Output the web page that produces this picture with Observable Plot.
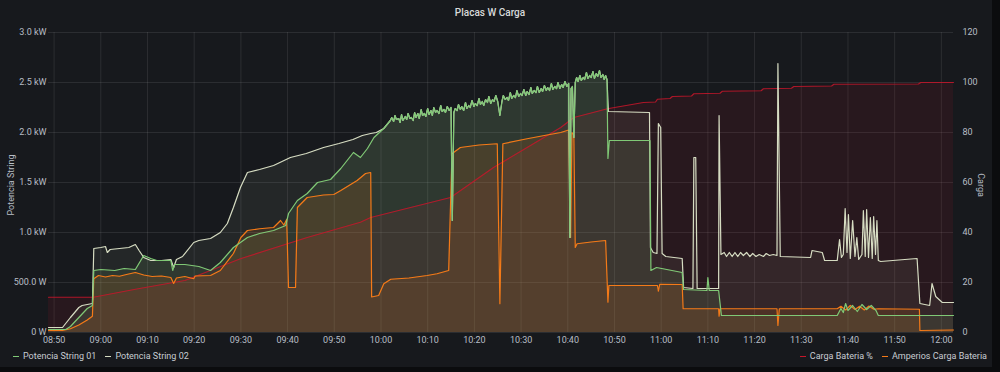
<!DOCTYPE html>
<html>
<head>
<meta charset="utf-8">
<script src="https://cdn.jsdelivr.net/npm/d3@7"></script>
<script src="https://cdn.jsdelivr.net/npm/@observablehq/plot@0.6"></script>
<style>
  html, body { margin: 0; padding: 0; background: #0b0c0e; width: 1000px; height: 372px; overflow: hidden; font-family: Roboto, "Noto Sans", sans-serif; }
  #panel { position: absolute; left: 0; top: 0; width: 992px; height: 367px; background: #17191d; }
  #title { position: absolute; left: 0; top: 7px; width: 980px; text-align: center; color: #d8d9da; font-size: 10px; font-weight: 500; }
  #chart { position: absolute; left: 0; top: 22px; }
  .ylab { position: absolute; color: #b8bec6; font-size: 9px; white-space: nowrap; }
  .legend { position: absolute; top: 351px; color: #c7ccd2; font-size: 9px; white-space: nowrap; display: flex; align-items: center; }
  .legend .item { display: flex; align-items: center; margin-right: 9px; }
  .legend .dash { display: inline-block; width: 6px; height: 1px; margin-right: 4px; }
</style>
</head>
<body>
<div id="panel"></div>
<div id="title">Placas W Carga</div>
<div id="chart"></div>
<div class="ylab" style="left:11px; top:185px; transform: translate(-50%,-50%) rotate(-90deg);">Potencia String</div>
<div class="ylab" style="left:981px; top:185px; transform: translate(-50%,-50%) rotate(90deg);">Carga</div>
<div class="legend" id="legL" style="left:13px;"></div>
<div class="legend" id="legR" style="right:13px;"></div>
<script>
// ---- tick labels ----
const xTickLabels = ["08:50","09:00","09:10","09:20","09:30","09:40","09:50","10:00","10:10","10:20","10:30","10:40","10:50","11:00","11:10","11:20","11:30","11:40","11:50","12:00"];
const leftTicks = [0, 0.5, 1.0, 1.5, 2.0, 2.5, 3.0];
const leftTickLabels = ["0 W","500.0 W","1.0 kW","1.5 kW","2.0 kW","2.5 kW","3.0 kW"];
const rightTickLabels = ["0","20","40","60","80","100","120"];
const rightMax = 120;   // right axis maximum
const leftMax = 3.0;    // left axis maximum (kW)

// ---- series: [minutes after 08:50, value] ----
// Potencia String 01 (kW)
const str01Early = [[-1.2,0.03],[2.5,0.03],[3.5,0.06],[5.3,0.15],[7.1,0.24],[8.2,0.27],[8.5,0.62],[10,0.63],[13,0.62],[15,0.64],[17.4,0.63],[19.2,0.77],[20.7,0.74],[22,0.72],[25,0.72],[25.4,0.62],[25.8,0.68],[28,0.68],[31,0.66],[33.5,0.62],[35.6,0.70],[38.4,0.85],[41.4,0.95],[44,0.99],[47,1.02],[49.6,1.07],[50.2,1.19],[52.1,1.32],[54.2,1.39],[56.4,1.50],[59.2,1.53],[61.4,1.64],[64.1,1.80],[65.6,1.75],[67.1,1.84],[68.5,1.95],[70.6,2.04]];
const str01Late = [[118.6,1.74],[118.9,1.92],[127.6,1.92],[127.8,0.62],[129,0.65],[134.5,0.60],[134.8,0.43],[139.8,0.42],[140.0,0.55],[140.3,0.42],[142.3,0.42],[142.9,0.17],[167.7,0.17],[168.5,0.24],[169,0.20],[169.5,0.29],[170,0.22],[171,0.27],[172,0.21],[173,0.28],[174,0.23],[175,0.27],[176,0.22],[176.5,0.17],[192.6,0.17]];
// Both strings (overlapping, 10:02 - 10:48)
const strShared = [[72.0,2.12],[72.3,2.15],[72.7,2.11],[73.0,2.17],[73.3,2.13],[73.8,2.14],[74.1,2.10],[74.4,2.18],[74.7,2.12],[75.2,2.16],[75.5,2.13],[75.8,2.19],[76.2,2.14],[76.5,2.15],[76.9,2.12],[77.2,2.20],[77.5,2.15],[77.9,2.19],[78.2,2.14],[78.6,2.23],[78.9,2.17],[79.3,2.19],[79.6,2.16],[80.0,2.24],[80.3,2.18],[80.7,2.22],[81.0,2.17],[81.3,2.25],[81.7,2.20],[82.0,2.22],[82.4,2.19],[82.8,2.27],[83.1,2.21],[83.5,2.23],[83.8,2.20],[84.2,2.26],[84.6,2.22],[85.0,2.25],[85.27,1.12],[85.6,2.20],[85.9,2.24],[86.3,2.22],[86.6,2.28],[87.0,2.23],[87.3,2.26],[87.7,2.22],[88.1,2.30],[88.4,2.24],[88.8,2.27],[89.1,2.25],[89.5,2.32],[89.9,2.26],[90.2,2.29],[90.6,2.27],[91.0,2.34],[91.3,2.28],[91.7,2.31],[92.0,2.27],[92.4,2.33],[92.8,2.30],[93.1,2.36],[93.5,2.29],[93.9,2.33],[94.2,2.31],[94.6,2.37],[95.0,2.31],[95.46,2.17],[95.9,2.31],[96.2,2.37],[96.6,2.33],[97.0,2.35],[97.3,2.32],[97.7,2.40],[98.0,2.34],[98.4,2.37],[98.8,2.35],[99.1,2.42],[99.5,2.36],[99.9,2.39],[100.2,2.37],[100.6,2.43],[101.0,2.37],[101.3,2.41],[101.7,2.38],[102.1,2.45],[102.4,2.39],[102.8,2.42],[103.2,2.40],[103.5,2.46],[103.9,2.40],[104.3,2.44],[104.6,2.41],[105.0,2.47],[105.4,2.42],[105.7,2.45],[106.1,2.42],[106.5,2.49],[106.8,2.43],[107.2,2.46],[107.6,2.44],[107.9,2.50],[108.3,2.44],[108.7,2.48],[109.0,2.45],[109.4,2.51],[109.8,2.46],[110.2,2.49],[110.45,0.95],[110.7,2.44],[111.0,2.46],[111.3,1.95],[111.6,2.50],[111.9,2.55],[112.2,2.51],[112.6,2.57],[112.9,2.52],[113.3,2.55],[113.6,2.53],[114.0,2.60],[114.3,2.54],[114.7,2.57],[115.0,2.55],[115.4,2.61],[115.7,2.54],[116.1,2.59],[116.4,2.56],[116.8,2.62],[117.1,2.55],[117.5,2.58],[117.8,2.53],[118.1,2.57],[118.4,2.53]];
// Potencia String 02 (kW)
const str02Early = [[-1.2,0.05],[1.8,0.05],[3.5,0.15],[5.3,0.25],[6.0,0.27],[7.1,0.28],[8.2,0.29],[8.5,0.84],[10,0.85],[11,0.86],[11.4,0.80],[12,0.83],[14,0.84],[16,0.85],[17.4,0.88],[18.2,0.82],[19.2,0.75],[20.7,0.72],[23,0.72],[25,0.73],[25.6,0.65],[26.2,0.73],[27.5,0.76],[29.9,0.90],[31,0.92],[33.5,0.94],[35.6,1.0],[37.1,1.09],[38.4,1.25],[39.9,1.45],[41.4,1.60],[44,1.63],[47,1.67],[50.6,1.75],[54,1.79],[57.7,1.85],[61,1.89],[64,1.93],[66,1.97],[67.8,1.99],[69,2.0],[70.6,2.04]];
const str02Late = [[118.7,2.21],[127.5,2.20],[127.7,0.85],[128.3,0.80],[129.1,0.79],[129.4,2.09],[129.9,2.05],[130.2,0.79],[131,0.76],[134.5,0.74],[134.8,0.45],[136.8,0.44],[137.0,1.75],[137.4,1.75],[137.7,0.44],[142.3,0.44],[142.4,2.17],[142.8,0.78],[143.5,0.80],[144,0.76],[144.6,0.80],[145.2,0.76],[145.8,0.80],[146.4,0.76],[147,0.80],[147.6,0.77],[148.3,0.80],[149,0.76],[149.6,0.79],[150.3,0.76],[151,0.78],[151.9,0.76],[152.5,0.79],[153.2,0.77],[154,0.78],[154.8,0.77],[155.0,2.69],[155.5,0.76],[162,0.75],[162.3,0.82],[164.5,0.80],[165,0.72],[167.7,0.72],[168.2,0.93],[168.6,0.75],[169.0,0.78],[169.4,1.24],[169.8,0.80],[170.1,1.18],[170.5,0.74],[171.0,1.12],[171.5,0.76],[171.9,0.95],[172.3,0.73],[173.0,0.78],[173.3,1.22],[173.7,0.76],[174.0,1.23],[174.4,0.75],[174.8,1.15],[175.2,0.74],[175.5,1.16],[175.9,0.78],[176.2,1.12],[176.5,0.72],[177,0.71],[184.8,0.74],[185.4,0.29],[187.5,0.27],[188.0,0.49],[188.8,0.36],[189.5,0.33],[190.2,0.30],[192.6,0.30]];
// Carga Bateria % (right axis)
const carga = [[-1.2,14.1],[8.4,14.1],[18,17.5],[28,20.8],[39.9,29.5],[54.2,38],[65.6,44.1],[67.8,46],[84.9,54],[94.1,66],[101.3,74],[108.5,82],[111.3,86],[118.5,89.5],[126.2,92],[128.8,92.2],[129.2,93.3],[131.9,93.6],[132.4,94.4],[136.5,94.6],[137,95.5],[142.6,95.7],[143.1,96.5],[151.4,96.7],[151.9,97.5],[157.9,97.7],[158.4,98.4],[166.5,98.6],[167,99.3],[185.1,99.4],[185.6,100],[192.6,100]];
// Amperios Carga Bateria (right axis)
const amperios = [[-1.2,0.8],[1.8,0.8],[3.5,1.5],[5.3,3.0],[7.1,5.0],[8.2,6.5],[8.5,21.5],[9.5,22.8],[11,22.2],[12.5,22.8],[14,22.5],[15.5,23.2],[17.4,24.0],[19.2,23.0],[21,22.4],[23,22.6],[25,22.0],[25.6,19.6],[26.2,21.8],[28,22.4],[29.9,21.5],[30.2,22.6],[33.5,22.8],[35.6,24.8],[38.4,31.6],[40,38],[41.4,40.8],[44,41.5],[47,42.0],[48.5,44.8],[49.2,43.0],[49.8,45.2],[50.2,18.0],[51.7,18.0],[52.1,50.0],[54.2,54.0],[57.7,55.0],[59.9,55.2],[61.4,56.8],[64.9,60.8],[66.7,63.6],[67.8,64.0],[68.0,14.2],[69.5,14.8],[70.6,19.5],[72.1,21.3],[76,21.8],[79.9,22.8],[82,23.5],[84.5,24.8],[85.2,71.5],[87,74],[91,75],[94.9,75.5],[95.46,11.5],[96.1,75.5],[101.3,77.5],[105,78.8],[108.5,80],[110.2,81],[110.6,38],[110.9,80],[111.3,79],[111.6,34],[112,35.5],[115,36.2],[118.1,36.8],[118.6,12.1],[118.8,18.8],[129.2,18.8],[129.4,16.5],[129.7,19.3],[134.5,19.2],[134.7,9.5],[142.3,9.5],[142.4,6.5],[142.6,9.5],[154.8,9.5],[155.0,2.8],[155.3,9.5],[167.7,9.5],[168.5,10.5],[169.5,9.0],[170.5,10.8],[171.5,9.2],[172.5,10.5],[173.5,9.0],[174.5,10.6],[175.5,9.3],[176.5,9.5],[185.3,9.3],[185.4,0.8],[192.6,1.0]];

// ---- build tables ----
const parse = d3.timeParse("%Y-%m-%d %H:%M");
const base = parse("2021-06-01 08:50");
const toDate = m => new Date(base.getTime() + m * 60000);
const xTicks = xTickLabels.map(l => parse("2021-06-01 " + l));
const toRight = v => v * leftMax / rightMax;

const rows = (pairs, f = v => v) => pairs.map(([m, v]) => ({t: toDate(m), v: f(v)}));
const s01 = rows([...str01Early, ...strShared, ...str01Late]);
const s02 = rows([...str02Early, ...strShared, ...str02Late]);
const sCarga = rows(carga, toRight);
const sAmp = rows(amperios, toRight);

const leftMap = new Map(leftTicks.map((d, i) => [d, leftTickLabels[i]]));
const rightMap = new Map(leftTicks.map((d, i) => [d, rightTickLabels[i]]));

const C01 = "#80c976", C02 = "#d6dcc2", CR = "#c4162a", CA = "#f47a18";
const textCol = "#b8bec6";

const chart = Plot.plot({
  width: 1000,
  height: 326,
  marginLeft: 48,
  marginRight: 47,
  marginTop: 10,
  marginBottom: 16,
  style: {background: "transparent", color: textCol, fontFamily: "Roboto, sans-serif", fontSize: "9px"},
  x: {type: "time", domain: [toDate(-1.2), toDate(192.6)], label: null},
  y: {domain: [0, leftMax], label: null},
  marks: [
    Plot.ruleY(leftTicks, {stroke: "#ffffff", strokeOpacity: 0.09}),
    Plot.ruleX(xTicks, {stroke: "#ffffff", strokeOpacity: 0.09}),
    Plot.areaY(sCarga, {x: "t", y: "v", fill: CR, fillOpacity: 0.10}),
    Plot.areaY(s02, {x: "t", y: "v", fill: C02, fillOpacity: 0.07}),
    Plot.areaY(s01, {x: "t", y: "v", fill: C01, fillOpacity: 0.11}),
    Plot.areaY(sAmp, {x: "t", y: "v", fill: CA, fillOpacity: 0.13}),
    Plot.lineY(sCarga, {x: "t", y: "v", stroke: CR, strokeWidth: 1.2, strokeOpacity: 0.85}),
    Plot.lineY(sAmp, {x: "t", y: "v", stroke: CA, strokeWidth: 1.2}),
    Plot.lineY(s02, {x: "t", y: "v", stroke: C02, strokeWidth: 1.2}),
    Plot.lineY(s01, {x: "t", y: "v", stroke: C01, strokeWidth: 1.2}),
    Plot.axisX({ticks: xTicks, tickFormat: d3.timeFormat("%H:%M"), tickSize: 0, tickPadding: 4, label: null, fill: textCol}),
    Plot.axisY({anchor: "left", ticks: leftTicks, tickFormat: d => leftMap.get(d), tickSize: 0, tickPadding: 2, label: null, fill: textCol}),
    Plot.axisY({anchor: "right", ticks: leftTicks, tickFormat: d => rightMap.get(d), tickSize: 0, tickPadding: 9, label: null, fill: textCol})
  ]
});
document.getElementById("chart").appendChild(chart);

// ---- legends ----
function legend(el, items) {
  for (const [name, col] of items) {
    const it = document.createElement("span");
    it.className = "item";
    const d = document.createElement("span");
    d.className = "dash";
    d.style.background = col;
    it.appendChild(d);
    it.appendChild(document.createTextNode(name));
    el.appendChild(it);
  }
}
legend(document.getElementById("legL"), [["Potencia String 01", C01], ["Potencia String 02", C02]]);
legend(document.getElementById("legR"), [["Carga Bateria %", CR], ["Amperios Carga Bateria", CA]]);
document.querySelector("#legR .item:last-child").style.marginRight = "0";
</script>
</body>
</html>
